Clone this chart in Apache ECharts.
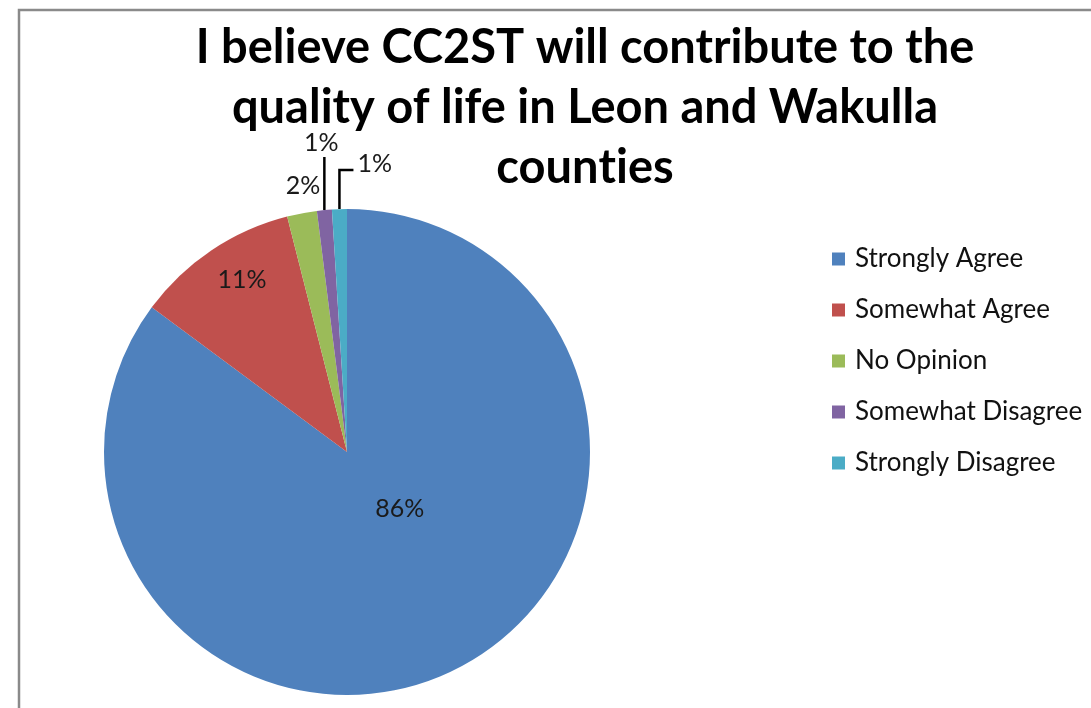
<!DOCTYPE html>
<html>
<head>
<meta charset="utf-8">
<script src="https://cdn.jsdelivr.net/npm/echarts@6/dist/echarts.min.js"></script>
<style>
  html, body { margin: 0; padding: 0; background: #fff; }
  #chart { width: 1091px; height: 708px; }
</style>
</head>
<body>
<div id="chart"></div>
<script>
// Survey responses (percent of respondents)
const categories = ['Strongly Agree', 'Somewhat Agree', 'No Opinion', 'Somewhat Disagree', 'Strongly Disagree'];
const values = [86, 11, 2, 1, 1];
const colors = ['#4F81BD', '#C0504D', '#9BBB59', '#8064A2', '#4BACC6'];
// "t" is its own rich-text run so it is not joined with the following "i"
const titleText = 'I believe CC2ST will contribute to the\nquality of life in Leon and Wakulla\ncoun{t|t}ies';

// Pie geometry (pixels)
const CX = 347, CY = 452, R = 243;

// Label placement: inside/near labels use radius fraction and angle shift,
// the two smallest slices use vertical leader lines.
const labelPlace = [
  { r: 0.32, da: -16 },
  { r: 0.83, da: 2.5 },
  { r: 1.11, da: 1.3 },
  { leader: 52, side: 'up' },
  { leader: 39, side: 'right' }
];

const total = values.reduce((a, b) => a + b, 0);
function midAngle(i) {
  let before = 0;
  for (let k = 0; k < i; k++) before += values[k];
  return (before + values[i] / 2) / total * 360;
}
function polar(r, deg) {
  const a = deg * Math.PI / 180;
  return [CX + r * Math.sin(a), CY - r * Math.cos(a)];
}

const data = categories.map((name, i) => ({
  name: name,
  value: values[i],
  itemStyle: { color: colors[i] },
  label: { position: i < 2 ? 'inside' : 'outside' },
  labelLine: { show: i >= 3 }
}));

const titleFont = {
  fontFamily: 'Lato',
  fontWeight: 'bold',
  fontSize: 47,
  lineHeight: 60,
  color: '#000'
};

const chart = echarts.init(document.getElementById('chart'), null, { renderer: 'canvas' });
chart.setOption({
  backgroundColor: '#ffffff',
  animation: false,
  title: {
    text: titleText,
    left: 580,
    top: 13,
    textAlign: 'center',
    textStyle: Object.assign({}, titleFont, {
      rich: { t: Object.assign({}, titleFont) }
    })
  },
  legend: {
    orient: 'vertical',
    left: 827,
    top: 241,
    itemWidth: 13,
    itemHeight: 13,
    itemGap: 25,
    icon: 'rect',
    selectedMode: false,
    data: categories,
    textStyle: {
      fontFamily: 'Lato',
      fontSize: 26,
      color: '#111',
      padding: [0, 0, 0, 5]
    }
  },
  graphic: [{
    type: 'polyline',
    silent: true,
    shape: { points: [[19, 720], [19, 10], [1100, 10]] },
    style: { stroke: '#8a8a8a', lineWidth: 2.5, fill: null }
  }],
  series: [{
    type: 'pie',
    center: [CX, CY],
    radius: R,
    startAngle: 90,
    clockwise: true,
    avoidLabelOverlap: false,
    emphasis: { disabled: true },
    itemStyle: { borderWidth: 0 },
    label: {
      show: true,
      formatter: p => p.value + '%',
      fontFamily: 'Lato',
      fontSize: 25,
      color: '#1a1a1a'
    },
    labelLine: {
      show: true,
      lineStyle: { color: '#000', width: 2.5 }
    },
    labelLayout: function (params) {
      const i = params.dataIndex;
      const pl = labelPlace[i];
      const mid = midAngle(i);
      if (pl.leader) {
        const p = polar(R, mid);
        const topY = CY - R - pl.leader;
        if (pl.side === 'up') {
          return {
            x: p[0] - 3, y: topY - 14,
            align: 'center', verticalAlign: 'middle',
            labelLinePoints: [[p[0], p[1]], [p[0], topY]]
          };
        }
        return {
          x: p[0] + 18, y: topY - 6,
          align: 'left', verticalAlign: 'middle',
          labelLinePoints: [[p[0], p[1]], [p[0], topY], [p[0] + 14, topY]]
        };
      }
      const q = polar(R * pl.r, mid + pl.da);
      return { x: q[0], y: q[1], align: 'center', verticalAlign: 'middle' };
    },
    data: data
  }]
});
</script>
</body>
</html>
